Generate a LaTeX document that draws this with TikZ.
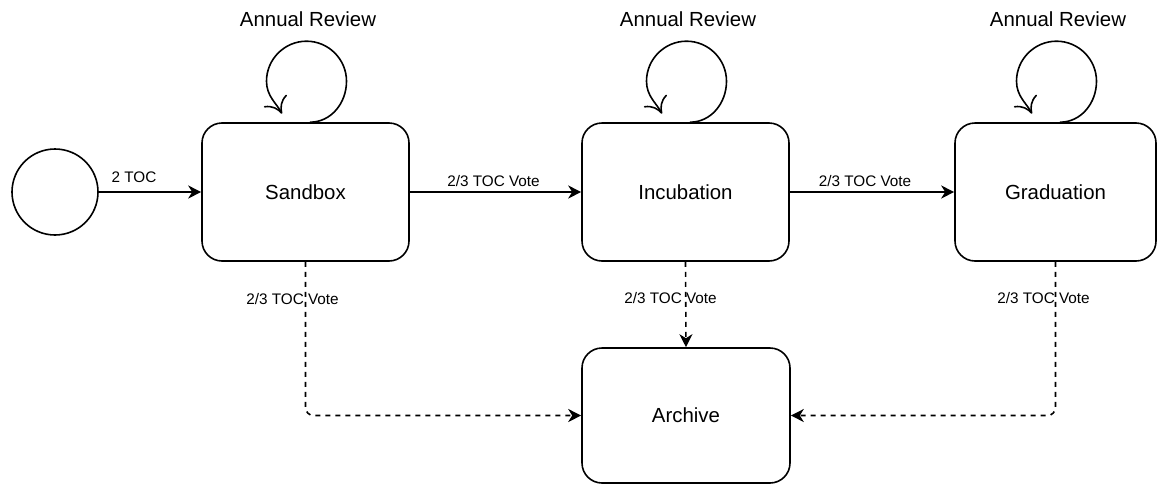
\documentclass[tikz,border=0pt]{standalone}
\usepackage{fontspec}
\setmainfont{Liberation Sans}
\usetikzlibrary{arrows.meta}
\begin{document}
\begin{tikzpicture}[x=1pt,y=-1pt,
  state/.style={draw=black, line width=1.6pt, rounded corners=20pt, minimum width=207pt, minimum height=138pt, inner sep=0pt, font=\fontsize{20.4pt}{24pt}\selectfont},
  startst/.style={draw=black, line width=1.6pt, circle, minimum size=86pt, inner sep=0pt},
  lbl/.style={font=\fontsize{15.3pt}{18pt}\selectfont, inner sep=0pt},
  biglbl/.style={font=\fontsize{20.4pt}{24pt}\selectfont, inner sep=0pt},
  solidarrow/.style={line width=1.6pt, -{Stealth[length=13pt,width=13pt,inset=4pt]}},
  dasharrow/.style={line width=1.6pt, dash pattern=on 5pt off 5pt, rounded corners=8pt, -{Stealth[length=13pt,width=13pt,inset=4pt]}},
  looparrow/.style={line width=1.6pt, -{Computer Modern Rightarrow[length=15pt,width=26pt]}}
]
\useasboundingbox (0,0) rectangle (1157,485);

\node[startst] (st) at (55,192) {};
\node[state] (sb) at (305.5,192) {Sandbox};
\node[state] (inc) at (685.5,192) {Incubation};
\node[state, minimum width=201pt] (gr) at (1055.5,192) {Graduation};
\node[state, minimum width=208pt, minimum height=135pt] (ar) at (686,415.5) {Archive};

% main transitions
\draw[solidarrow] (st) -- node[lbl, xshift=-16pt, yshift=15pt] {2 TOC} (sb);
\draw[solidarrow] (sb) -- node[lbl, xshift=-2pt, yshift=11pt] {2/3 TOC Vote} (inc);
\draw[solidarrow] (inc) -- node[lbl, xshift=-7pt, yshift=11pt] {2/3 TOC Vote} (gr);

% archive transitions
\draw[dasharrow] (sb.south) |- (ar.west);
\draw[dasharrow] (inc.south) -- (ar.north);
\draw[dasharrow] (gr.south) |- (ar.east);
\node[lbl] (l1) at ([xshift=-13pt,yshift=-37pt]sb.south) {2/3 TOC Vote};
\node[lbl] (l2) at ([xshift=-15pt,yshift=-36pt]inc.south) {2/3 TOC Vote};
\node[lbl] (l3) at ([xshift=-12pt,yshift=-36pt]gr.south) {2/3 TOC Vote};

% annual review loops
\foreach \n in {sb,inc,gr}{
  \begin{scope}[shift={(\n.north)}]
    \draw[looparrow] (4.5,0) .. controls (25.5,0) and (41,-19) .. (41,-41)
      .. controls (41,-63) and (23,-81) .. (1,-81)
      .. controls (-21,-81) and (-39,-63) .. (-39,-41)
      .. controls (-39,-26) and (-29,-19) .. (-23.5,-8.5);
  \end{scope}
  \node[biglbl] (ar\n) at ([xshift=2.5pt,yshift=103pt]\n.north) {Annual Review};
}
\end{tikzpicture}
\end{document}
